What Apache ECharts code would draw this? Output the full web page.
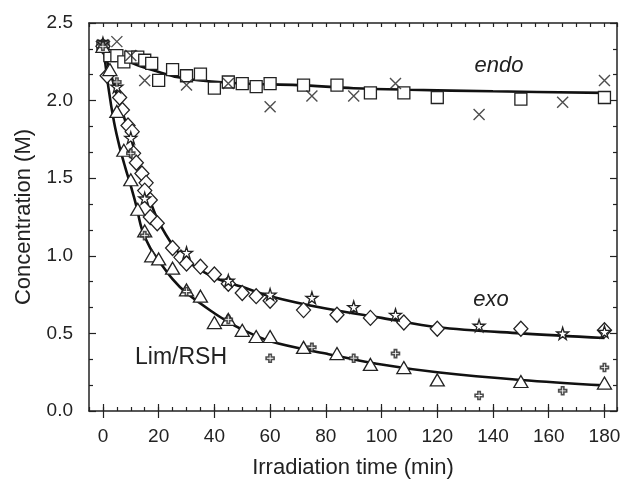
<!DOCTYPE html>
<html>
<head>
<meta charset="utf-8">
<script src="https://cdn.jsdelivr.net/npm/echarts@6/dist/echarts.min.js"></script>
<style>
  html, body { margin: 0; padding: 0; background: #fff; }
  #chart { width: 627px; height: 485px; }
</style>
</head>
<body>
<div id="chart"></div>
<script>
// data: [time (min), concentration (M)]
const endoSquares = [[0,2.35],[2.5,2.29],[5,2.29],[7.5,2.25],[10,2.28],[12.5,2.28],[15,2.26],[17.5,2.24],[20,2.13],[25,2.20],[30,2.16],[35,2.17],[40,2.08],[45,2.12],[50,2.11],[55,2.09],[60,2.11],[72,2.10],[84,2.10],[96,2.05],[108,2.05],[120,2.02],[150,2.01],[180,2.02]]
const endoCrosses = [[0,2.36],[5,2.38],[10,2.29],[15,2.13],[30,2.10],[45,2.11],[60,1.96],[75,2.03],[90,2.03],[105,2.11],[135,1.91],[165,1.99],[180,2.13]]
const exoDiamonds = [[0,2.35],[1.5,2.16],[6,2.02],[7,1.94],[9,1.84],[10.5,1.80],[11,1.66],[12,1.60],[14,1.53],[15.5,1.47],[15,1.42],[17,1.36],[17,1.25],[19.5,1.21],[25,1.05],[28,0.99],[30,0.95],[35,0.93],[40,0.88],[45,0.82],[50,0.76],[55,0.74],[60,0.71],[72,0.65],[84,0.62],[96,0.60],[108,0.57],[120,0.53],[150,0.53],[180,0.52]]
const exoStars = [[0,2.37],[5,2.09],[10,1.76],[15,1.37],[30,1.02],[45,0.84],[60,0.75],[75,0.73],[90,0.67],[105,0.62],[135,0.55],[165,0.50],[180,0.51]]
const limTriangles = [[0,2.35],[2.5,2.20],[5,1.93],[7.5,1.68],[10,1.49],[12.5,1.30],[15,1.16],[17.5,1.00],[20,0.98],[25,0.92],[30,0.78],[35,0.74],[40,0.57],[45,0.59],[50,0.52],[55,0.48],[60,0.48],[72,0.41],[84,0.37],[96,0.30],[108,0.28],[120,0.20],[150,0.19],[180,0.18]]
const limPlus = [[0,2.35],[5,2.12],[10,1.66],[15,1.13],[30,0.77],[45,0.59],[60,0.34],[75,0.41],[90,0.34],[105,0.37],[135,0.10],[165,0.13],[180,0.28]]

// fitted curves
const endoFit = [[0,2.37],[3,2.31],[7,2.27],[12,2.23],[19,2.19],[27,2.15],[35,2.13],[50,2.11],[70,2.10],[90,2.08],[110,2.07],[140,2.06],[180,2.05]]
const exoFit = [[0,2.37],[2,2.22],[4,2.10],[6,1.98],[8,1.87],[10,1.76],[12,1.64],[14,1.51],[17,1.35],[20,1.22],[25,1.07],[30,0.97],[40,0.86],[50,0.80],[60,0.74],[80,0.66],[100,0.60],[120,0.54],[150,0.50],[180,0.47]]
const limFit = [[0,2.37],[2,2.08],[4,1.86],[6,1.70],[8,1.57],[10,1.45],[12,1.32],[14,1.17],[17,1.05],[20,0.97],[25,0.85],[30,0.76],[40,0.63],[45,0.575],[50,0.525],[60,0.45],[80,0.37],[100,0.30],[120,0.25],[150,0.20],[180,0.165]]

const xMajorTicks = [0, 20, 40, 60, 80, 100, 120, 140, 160, 180]
const seriesLabels = ['endo', 'exo', 'Lim/RSH']

const FONT = 'Liberation Sans, Arial, sans-serif'
const INK = '#222'

const chart = echarts.init(document.getElementById('chart'))

const starPath = 'path://M50,0 L61,35 L98,35 L68,57 L79,91 L50,70 L21,91 L32,57 L2,35 L39,35 Z'
const crossPath = 'path://M0,0 L10,10 M10,0 L0,10'
const plusPath = 'path://M3.5,0 H6.5 V3.5 H10 V6.5 H6.5 V10 H3.5 V6.5 H0 V3.5 H3.5 Z'

function xAxisPair(position, showLabels) {
  return [
    {
      type: 'value', position, min: -5, max: 184.5, interval: 5,
      axisLine: { show: true, onZero: false, lineStyle: { color: INK, width: 1.5 } },
      axisTick: { show: true, inside: true, length: 4, lineStyle: { color: INK, width: 1.2 } },
      axisLabel: {
        show: showLabels, color: INK, fontSize: 19, fontFamily: FONT, margin: 16,
        formatter: v => (v >= 0 && v % 20 === 0) ? String(v) : ''
      },
      splitLine: { show: false },
      name: showLabels ? 'Irradiation time (min)' : '',
      nameLocation: 'middle', nameGap: 46,
      nameTextStyle: { color: INK, fontSize: 22, fontFamily: FONT }
    },
    {
      type: 'value', position, min: -5, max: 184.5,
      axisLine: { show: false },
      axisTick: { show: true, inside: true, length: 7, customValues: xMajorTicks, lineStyle: { color: INK, width: 1.2 } },
      axisLabel: { show: false },
      splitLine: { show: false }
    }
  ]
}

function yAxis(position, showLabels) {
  return {
    type: 'value', position, min: 0, max: 2.5, interval: 0.5,
    axisLine: { show: true, onZero: false, lineStyle: { color: INK, width: 1.5 } },
    axisTick: { show: true, inside: true, length: 7, lineStyle: { color: INK, width: 1.2 } },
    minorTick: { show: true, splitNumber: 3, length: 4, lineStyle: { color: INK, width: 1.2 } },
    axisLabel: { show: showLabels, color: INK, fontSize: 19, fontFamily: FONT, margin: 16, formatter: v => v.toFixed(1) },
    splitLine: { show: false },
    name: showLabels ? 'Concentration (M)' : '',
    nameLocation: 'middle', nameGap: 54,
    nameTextStyle: { color: INK, fontSize: 22, fontFamily: FONT }
  }
}

function fitLine(data) {
  return {
    type: 'line', data, smooth: 0.35, symbol: 'none', z: 2,
    lineStyle: { color: '#111', width: 2.6 }, silent: true
  }
}

function markers(data, symbol, size, extra) {
  return Object.assign({
    type: 'scatter', data, symbol, symbolSize: size, z: 3,
    itemStyle: { color: '#fff', borderColor: INK, borderWidth: 1.3, opacity: 1 }
  }, extra || {})
}

const option = {
  animation: false,
  backgroundColor: '#fff',
  grid: { left: 89, right: 10, top: 23, bottom: 74 },
  xAxis: [...xAxisPair('bottom', true), ...xAxisPair('top', false)],
  yAxis: [yAxis('left', true), yAxis('right', false)],
  series: [
    fitLine(endoFit),
    fitLine(exoFit),
    fitLine(limFit),
    markers(endoSquares, 'rect', 12),
    markers(endoCrosses, crossPath, 11, { itemStyle: { color: 'transparent', borderColor: INK, borderWidth: 1.4 } }),
    markers(exoDiamonds, 'diamond', [14, 15]),
    markers(exoStars, starPath, 12),
    markers(limTriangles, 'triangle', [14, 12]),
    markers(limPlus, plusPath, 8, { itemStyle: { color: '#fff', borderColor: INK, borderWidth: 1.6 } })
  ],
  graphic: [
    { type: 'text', x: 499, y: 66, style: { text: seriesLabels[0], font: 'italic 22px ' + FONT, fill: INK, align: 'center', verticalAlign: 'middle' } },
    { type: 'text', x: 491, y: 300, style: { text: seriesLabels[1], font: 'italic 22px ' + FONT, fill: INK, align: 'center', verticalAlign: 'middle' } },
    { type: 'text', x: 181, y: 358, style: { text: seriesLabels[2], font: '23px ' + FONT, fill: INK, align: 'center', verticalAlign: 'middle' } }
  ]
}

chart.setOption(option)
</script>
</body>
</html>
